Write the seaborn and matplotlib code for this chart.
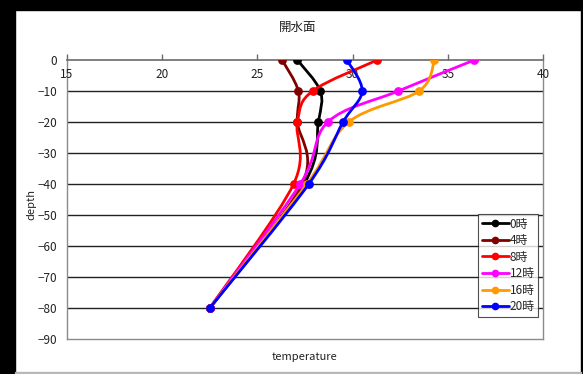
import numpy as np
import pandas as pd
import matplotlib
matplotlib.use("Agg")
import matplotlib.pyplot as plt
from matplotlib.path import Path
from matplotlib.patches import PathPatch, Rectangle
from matplotlib.lines import Line2D
import seaborn as sns

# Water temperature profiles at the open-water surface
depth = [0, -10, -20, -40, -80]
series_names = ["0時", "4時", "8時", "12時", "16時", "20時"]
temp_00 = [27.1, 28.3, 28.2, 27.45, 22.5]
temp_04 = [26.3, 27.15, 27.1, 27.35, 22.5]
temp_08 = [31.3, 27.9, 27.1, 26.9, 22.5]
temp_12 = [36.4, 32.4, 28.7, 27.25, 22.5]
temp_16 = [34.3, 33.5, 29.8, 27.6, 22.5]
temp_20 = [29.7, 30.5, 29.5, 27.7, 22.5]
colors = ["#000000", "#800000", "#FF0000", "#FF00FF", "#FF9900", "#0000FF"]
x_ticks = [15, 20, 25, 30, 35, 40]
y_ticks = [0, -10, -20, -30, -40, -50, -60, -70, -80, -90]

series = [temp_00, temp_04, temp_08, temp_12, temp_16, temp_20]
df = pd.DataFrame({
    "temperature": np.concatenate(series),
    "depth": depth * len(series),
    "time": np.repeat(series_names, len(depth)),
})

sns.set_style("white")
plt.rcParams["font.family"] = ["Noto Sans CJK JP", "DejaVu Sans"]

W, H = 583, 374
fig = plt.figure(figsize=(W / 100, H / 100), dpi=100)

# frame around the chart
fig.patches.append(Rectangle((0, 0), 15 / W, 1, transform=fig.transFigure, color="black", zorder=-5))
fig.patches.append(Rectangle((0, 1 - 10 / H), 1, 10 / H, transform=fig.transFigure, color="black", zorder=-5))
fig.patches.append(Rectangle((1 - 2 / W, 0), 2 / W, 1, transform=fig.transFigure, color="black", zorder=-5))
fig.patches.append(Rectangle((15 / W, 1.5 / H), 1 - 17 / W, 1 / H, transform=fig.transFigure, color="#b8b8b8", zorder=-5))

left, right, top, bottom = 67, 543, 60, 339
ax = fig.add_axes([left / W, 1 - bottom / H, (right - left) / W, (bottom - top) / H])
ax.set_xlim(15, 40)
ax.set_ylim(-90, 0)

# horizontal gridlines
for yv in y_ticks[1:-1]:
    ax.axhline(yv, color="#222222", lw=1.0, zorder=1)

for side in ["left", "right", "bottom"]:
    ax.spines[side].set_color("#8a8a8a")
    ax.spines[side].set_linewidth(1.0)
ax.spines["top"].set_color("#6a6a6a")
ax.spines["top"].set_linewidth(1.2)

ax.set_yticks(y_ticks)
ax.set_yticklabels([f"{v}".replace("-", "\u2212") for v in y_ticks], fontsize=8.5, color="#222222")
ax.tick_params(axis="y", length=0, pad=7)

# x axis crosses at depth 0: ticks point up, labels sit below the line
ax.xaxis.tick_top()
ax.set_xticks(x_ticks)
ax.set_xticklabels([])
ax.tick_params(axis="x", direction="out", length=4, color="#6a6a6a", width=1)
for xv in x_ticks:
    ax.text(xv, -4.8, str(xv), ha="center", va="center", fontsize=8.5, color="#222222")


def smooth_path(xs, ys):
    """Cubic Bezier path through the points (Catmull-Rom style control points)."""
    pts = np.column_stack([xs, ys]).astype(float)
    n = len(pts)
    verts = [pts[0]]
    codes = [Path.MOVETO]
    for i in range(n - 1):
        p0 = pts[i - 1] if i > 0 else pts[i]
        p1 = pts[i]
        p2 = pts[i + 1]
        p3 = pts[i + 2] if i + 2 < n else pts[i + 1]
        c1 = p1 + (p2 - p0) / 6.0
        c2 = p2 - (p3 - p1) / 6.0
        verts += [c1, c2, p2]
        codes += [Path.CURVE4] * 3
    return Path(verts, codes)


handles = []
for k, (name, col) in enumerate(zip(series_names, colors)):
    sub = df[df["time"] == name]
    ax.add_patch(PathPatch(smooth_path(sub["temperature"], sub["depth"]),
                           facecolor="none", edgecolor=col, lw=2.0, zorder=3 + 2 * k,
                           capstyle="round", joinstyle="round"))
    sns.scatterplot(data=sub, x="temperature", y="depth", color=col, s=40,
                    edgecolor=col, linewidth=0, ax=ax, zorder=4 + 2 * k, legend=False)
    handles.append(Line2D([], [], color=col, lw=2.0, marker="o", markersize=4.5, label=name))

ax.set_xlabel("")
ax.set_ylabel("")
fig.text(305 / W, 1 - 357 / H, "temperature", ha="center", va="center", fontsize=8, color="#222222")
fig.text(31 / W, 1 - 205 / H, "depth", ha="center", va="center", rotation=90, fontsize=8, color="#222222")
fig.text(298 / W, 1 - 27 / H, "開水面", ha="center", va="center", fontsize=9, color="#222222")

leg = ax.legend(handles=handles, loc="upper left",
                bbox_to_anchor=((478 - left) / (right - left), 1 - (214 - top) / (bottom - top)),
                fontsize=8.5, frameon=True, fancybox=False, edgecolor="#222222",
                handlelength=2.3, handletextpad=0.1, labelspacing=0.3,
                borderpad=0.3, borderaxespad=0)
leg.get_frame().set_linewidth(0.8)

fig.savefig("out.png", dpi=100, facecolor="white")
